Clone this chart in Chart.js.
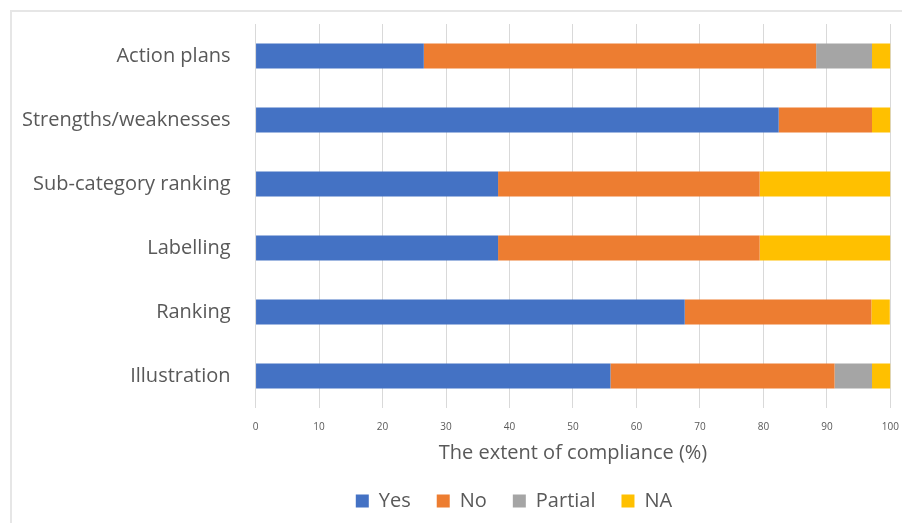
<!DOCTYPE html>
<html lang="en">
<head>
    <meta charset="UTF-8">
    <title>The extent of compliance</title>
    <style>
        body { margin: 0; background: #fff; }
        #frame { position: absolute; left: 10px; top: 10px; width: 900px; height: 520px;
                 border-top: 2px solid #e6e6e6; border-left: 2px solid #e6e6e6; }
        #chart-container { position: absolute; left: 0; top: 0; width: 902px; height: 523px; }
    </style>
</head>
<body>
    <div id="frame"></div>
    <div id="chart-container">
        <canvas id="compliance-chart"></canvas>
    </div>
    <script src="https://cdn.jsdelivr.net/npm/chart.js@4/dist/chart.umd.min.js"></script>
    <script>
        const categories = ['Action plans', 'Strengths/weaknesses', 'Sub-category ranking', 'Labelling', 'Ranking', 'Illustration'];
        const yesValues = [26.5, 82.4, 38.2, 38.2, 67.6, 55.9];
        const noValues = [61.8, 14.7, 41.2, 41.2, 29.4, 35.3];
        const partialValues = [8.8, 0, 0, 0, 0, 5.9];
        const naValues = [2.9, 2.9, 20.6, 20.6, 2.9, 2.9];
        const xTicks = [0, 10, 20, 30, 40, 50, 60, 70, 80, 90, 100];

        const fontFamily = '"Open Sans", Calibri, sans-serif';
        const textColor = '#595959';

        // shift the legend so it sits under the plot area like the original
        const legendShift = {
            id: 'legendShift',
            afterLayout(chart) {
                const lg = chart.legend;
                const shift = (chart.chartArea.left + chart.chartArea.right) / 2 - (lg.left + lg.right) / 2 - 59;
                lg.left += shift;
                lg.right += shift;
            }
        };

        const ctx = document.getElementById('compliance-chart').getContext('2d');
        new Chart(ctx, {
            type: 'bar',
            data: {
                labels: categories,
                datasets: [
                    { label: 'Yes', data: yesValues, backgroundColor: '#4472c4' },
                    { label: 'No', data: noValues, backgroundColor: '#ed7d31' },
                    { label: 'Partial', data: partialValues, backgroundColor: '#a5a5a5' },
                    { label: 'NA', data: naValues, backgroundColor: '#ffc000' }
                ]
            },
            options: {
                indexAxis: 'y',
                responsive: true,
                maintainAspectRatio: false,
                animation: false,
                datasets: { bar: { categoryPercentage: 1, barPercentage: 0.39 } },
                layout: { padding: { left: 19, right: 0, top: 24, bottom: 2 } },
                scales: {
                    x: {
                        stacked: true,
                        min: 0,
                        max: 100,
                        afterBuildTicks(axis) { axis.ticks = xTicks.map(v => ({ value: v })); },
                        grid: { color: '#d9d9d9', drawTicks: true, tickLength: 12, tickColor: 'rgba(0,0,0,0)' },
                        border: { display: false },
                        ticks: { color: textColor, font: { family: fontFamily, size: 10, lineHeight: 0.8 }, padding: 3, maxRotation: 0 },
                        title: { display: true, text: 'The extent of compliance (%)', color: textColor,
                                 font: { family: fontFamily, size: 20 }, padding: { top: 7, bottom: 0 } }
                    },
                    y: {
                        stacked: true,
                        grid: { display: true, drawOnChartArea: false, drawTicks: true, tickLength: 22, tickColor: 'rgba(0,0,0,0)' },
                        border: { display: false },
                        ticks: { color: textColor, font: { family: fontFamily, size: 20 }, padding: 3 }
                    }
                },
                plugins: {
                    legend: {
                        position: 'bottom',
                        labels: { color: textColor, font: { family: fontFamily, size: 20 },
                                  boxWidth: 13, boxHeight: 13, padding: 26 }
                    },
                    tooltip: { enabled: false }
                }
            },
            plugins: [legendShift]
        });
    </script>
</body>
</html>
